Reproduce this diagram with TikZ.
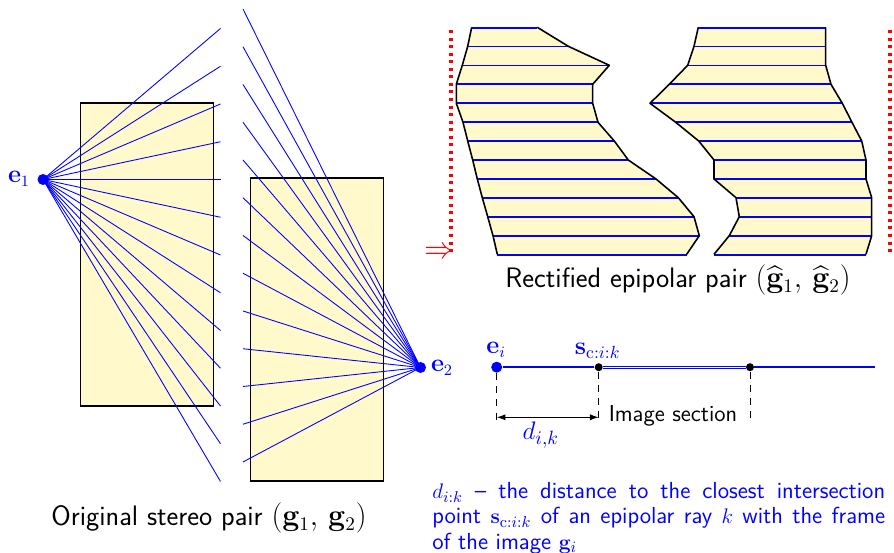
\documentclass[tikz,border=0pt]{standalone}
\usepackage{xcolor}
\usepackage{amsmath}
\usepackage{amssymb}
\usetikzlibrary{arrows.meta}
\renewcommand{\familydefault}{\sfdefault}
\definecolor{imgfill}{HTML}{FFF9CC}

\begin{document}
\begin{tikzpicture}[x=0.02cm, y=-0.02cm,
    frame/.style={draw=black, line width=0.9pt, fill=imgfill},
    ray/.style={draw=blue, line width=0.5pt},
    epiline/.style={draw=blue, line width=1.05pt},
    edge/.style={draw=black, line width=0.9pt, line join=round},
    redline/.style={draw=red, line width=1.8pt, line cap=butt, dash pattern=on 1.7pt off 2.6pt},
    epipole/.style={circle, fill=blue, inner sep=0pt, minimum size=0.22cm},
    secpoint/.style={circle, fill=black, inner sep=0pt, minimum size=0.16cm},
    caption/.style={font=\fontsize{16}{19}\selectfont, inner sep=0pt},
    bluelabel/.style={text=blue, inner sep=0pt, font=\fontsize{13.5}{15}\selectfont}]
    \useasboundingbox (0,0) rectangle (894,553);

    % Original pair
    \node (frameA) [frame, minimum width=2.66cm, minimum height=6.06cm, inner sep=0pt] at (147,254.5) {};
    \node (frameB) [frame, minimum width=2.66cm, minimum height=6.05cm, inner sep=0pt] at (317,329.5) {};
    \node (eA) [epipole] at (43,179.5) {};
    \node (eB) [epipole] at (420.5,367.5) {};
    \node (eAlabel) [bluelabel] at (19,179) {$\mathbf{e}_1$};
    \node (eBlabel) [bluelabel] at (442,367.5) {$\mathbf{e}_2$};
    \foreach \i in {0,...,12} {
        \coordinate (rayA\i) at (220.5,{28.5+37.75*\i});
        \coordinate (rayB\i) at (243,{9+37.75*\i});
        \draw[ray] (eA.center) -- (rayA\i);
        \draw[ray] (eB.center) -- (rayB\i);
    }
    \node (capA) [caption] at (209,518) {Original stereo pair $(\mathbf{g}_1,\,\mathbf{g}_2)$};

    % Rectified pair
    \fill[imgfill] (471.7,27.3) -- (537.3,27.3) -- (568.3,46.3) -- (609.3,65.3) -- (592.7,84.3) -- (592.7,103.3) -- (598,122.3) -- (614.3,141) -- (628.3,160) -- (656,179) -- (678.3,197.7) -- (694,216.7) -- (699.3,235.7) -- (686.7,254.3) -- (497.3,254.3) -- (493,235.7) -- (487.7,216.7) -- (482.3,197.7) -- (477.3,179) -- (472.7,160) -- (467.7,141) -- (463,122.3) -- (456.3,103.3) -- (456.3,84.3) -- (462.3,65.3) -- (467.7,46.3) -- cycle;
    \fill[imgfill] (698.3,27.3) -- (825.7,27.3) -- (825.7,46.3) -- (825.7,65.3) -- (831,84.3) -- (842.3,103.3) -- (852,122.3) -- (861.7,141) -- (866,160) -- (866,179) -- (871.7,197.7) -- (871.7,216.7) -- (871.7,235.7) -- (866,254.3) -- (714,254.3) -- (729.3,235.7) -- (739.3,216.7) -- (736,197.7) -- (714,179) -- (714,160) -- (698.7,141) -- (675.7,122.3) -- (650,103.3) -- (669.3,84.3) -- (687.7,65.3) -- (694,46.3) -- cycle;
    \foreach \xa/\xb/\xc/\xd [count=\n from 0] in {
        471.7/537.3/698.3/825.7, 467.7/568.3/694/825.7, 462.3/609.3/687.7/825.7,
        456.3/592.7/669.3/831, 456.3/592.7/650/842.3, 463/598/675.7/852,
        467.7/614.3/698.7/861.7, 472.7/628.3/714/866, 477.3/656/714/866,
        482.3/678.3/736/871.7, 487.7/694/739.3/871.7, 493/699.3/729.3/871.7,
        497.3/686.7/714/866} {
        \draw[epiline] (\xa,{27.6+18.92*\n}) -- (\xb,{27.6+18.92*\n});
        \draw[epiline] (\xc,{27.6+18.92*\n}) -- (\xd,{27.6+18.92*\n});
    }
    \draw[edge] (471.7,27.3) -- (467.7,46.3) -- (462.3,65.3) -- (456.3,84.3) -- (456.3,103.3) -- (463,122.3) -- (467.7,141) -- (472.7,160) -- (477.3,179) -- (482.3,197.7) -- (487.7,216.7) -- (493,235.7) -- (497.3,254.3);
    \draw[edge] (537.3,27.3) -- (568.3,46.3) -- (609.3,65.3) -- (592.7,84.3) -- (592.7,103.3) -- (598,122.3) -- (614.3,141) -- (628.3,160) -- (656,179) -- (678.3,197.7) -- (694,216.7) -- (699.3,235.7) -- (686.7,254.3);
    \draw[edge] (698.3,27.3) -- (694,46.3) -- (687.7,65.3) -- (669.3,84.3) -- (650,103.3) -- (675.7,122.3) -- (698.7,141) -- (714,160) -- (714,179) -- (736,197.7) -- (739.3,216.7) -- (729.3,235.7) -- (714,254.3);
    \draw[edge] (825.7,27.3) -- (825.7,65.3) -- (831,84.3) -- (842.3,103.3) -- (852,122.3) -- (861.7,141) -- (866,160) -- (866,179) -- (871.7,197.7) -- (871.7,235.7) -- (866,254.3);
    \coordinate (dotsAtop) at (451,30);
    \coordinate (dotsAend) at (451,253);
    \coordinate (dotsBtop) at (890,30);
    \coordinate (dotsBend) at (890,253);
    \draw[redline] (dotsAtop) -- (dotsAend);
    \draw[redline] (dotsBtop) -- (dotsBend);
    \node (mapsto) [text=red, inner sep=0pt, font=\fontsize{16.5}{18}\selectfont] at (439.5,252.5) {$\Rightarrow$};
    \node (capB) [caption] at (678,280) {Rectified epipolar pair $(\widehat{\mathbf{g}}_1,\,\widehat{\mathbf{g}}_2)$};

    % Section along a ray
    \node (ei) [epipole] at (496.7,367.2) {};
    \node (sc) [secpoint] at (598.7,367.2) {};
    \node (sf) [secpoint] at (750,367.2) {};
    \coordinate (rayend) at (875,367.2);
    \coordinate (eidown) at (496.7,420);
    \coordinate (scdown) at (598.7,420);
    \coordinate (sfdown) at (750,420);
    \draw[ray, line width=0.8pt] (ei) -- (sc);
    \draw[blue, line width=0.55pt, double=white, double distance=0.5pt] (sc) -- (sf);
    \draw[ray, line width=0.8pt] (sf) -- (rayend);
    \draw[line width=0.5pt, dash pattern=on 4pt off 3.5pt] (ei) -- (eidown);
    \draw[line width=0.5pt, dash pattern=on 4pt off 3.5pt] (sc) -- (scdown);
    \draw[line width=0.5pt, dash pattern=on 4pt off 3.5pt] (sf) -- (sfdown);
    \draw[{Latex[length=5pt,width=3.5pt]}-{Latex[length=5pt,width=3.5pt]}, line width=0.6pt] (496.7,417.3) -- (598.7,417.3);
    \node (eilabel) [bluelabel] at (496,350) {$\mathbf{e}_i$};
    \node (sclabel) [bluelabel, font=\fontsize{14.8}{16}\selectfont] at (597.7,351) {$\mathbf{s}_{\mathrm{c}:i:k}$};
    \node (dist) [bluelabel, font=\fontsize{15}{17}\selectfont] at (540.7,435) {$d_{i,k}$};
    \node (seclabel) [inner sep=0pt, font=\fontsize{13.1}{15}\selectfont] at (673,416) {Image section};
    \node (note) [text=blue, inner sep=0pt, anchor=north west, text width=9.06cm, align=justify, font=\fontsize{13.2}{14.4}\selectfont] at (432,482) {$d_{i:k}$ -- the distance to the closest intersection\linebreak point $\mathbf{s}_{\mathrm{c}:i:k}$ of an epipolar ray $k$ with the frame\linebreak of the image $\mathbf{g}_i$};
\end{tikzpicture}
\end{document}
